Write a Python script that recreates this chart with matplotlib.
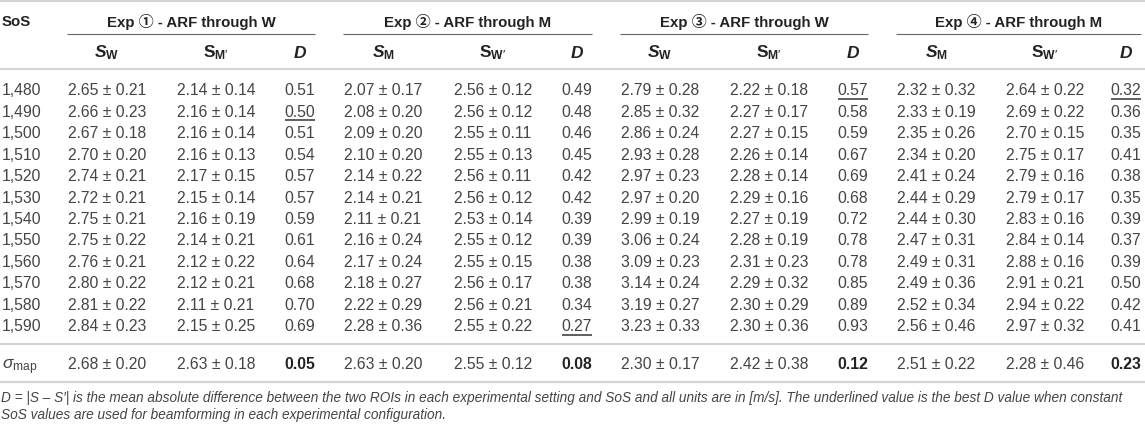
import matplotlib
matplotlib.use("Agg")
import matplotlib.pyplot as plt
from matplotlib import font_manager

# --- DATA ---
sos = [1480, 1490, 1500, 1510, 1520, 1530, 1540, 1550, 1560, 1570, 1580, 1590]

groups = ["Exp \u2460 - ARF through W", "Exp \u2461 - ARF through M",
          "Exp \u2462 - ARF through W", "Exp \u2463 - ARF through M"]

exp1_sw_mean = [2.65, 2.66, 2.67, 2.70, 2.74, 2.72, 2.75, 2.75, 2.76, 2.80, 2.81, 2.84]
exp1_sw_std  = [0.21, 0.23, 0.18, 0.20, 0.21, 0.21, 0.21, 0.22, 0.21, 0.22, 0.22, 0.23]
exp1_sm_mean = [2.14, 2.16, 2.16, 2.16, 2.17, 2.15, 2.16, 2.14, 2.12, 2.12, 2.11, 2.15]
exp1_sm_std  = [0.14, 0.14, 0.14, 0.13, 0.15, 0.14, 0.19, 0.21, 0.22, 0.21, 0.21, 0.25]
exp1_d       = [0.51, 0.50, 0.51, 0.54, 0.57, 0.57, 0.59, 0.61, 0.64, 0.68, 0.70, 0.69]

exp2_sm_mean = [2.07, 2.08, 2.09, 2.10, 2.14, 2.14, 2.11, 2.16, 2.17, 2.18, 2.22, 2.28]
exp2_sm_std  = [0.17, 0.20, 0.20, 0.20, 0.22, 0.21, 0.21, 0.24, 0.24, 0.27, 0.29, 0.36]
exp2_sw_mean = [2.56, 2.56, 2.55, 2.55, 2.56, 2.56, 2.53, 2.55, 2.55, 2.56, 2.56, 2.55]
exp2_sw_std  = [0.12, 0.12, 0.11, 0.13, 0.11, 0.12, 0.14, 0.12, 0.15, 0.17, 0.21, 0.22]
exp2_d       = [0.49, 0.48, 0.46, 0.45, 0.42, 0.42, 0.39, 0.39, 0.38, 0.38, 0.34, 0.27]

exp3_sw_mean = [2.79, 2.85, 2.86, 2.93, 2.97, 2.97, 2.99, 3.06, 3.09, 3.14, 3.19, 3.23]
exp3_sw_std  = [0.28, 0.32, 0.24, 0.28, 0.23, 0.20, 0.19, 0.24, 0.23, 0.24, 0.27, 0.33]
exp3_sm_mean = [2.22, 2.27, 2.27, 2.26, 2.28, 2.29, 2.27, 2.28, 2.31, 2.29, 2.30, 2.30]
exp3_sm_std  = [0.18, 0.17, 0.15, 0.14, 0.14, 0.16, 0.19, 0.19, 0.23, 0.32, 0.29, 0.36]
exp3_d       = [0.57, 0.58, 0.59, 0.67, 0.69, 0.68, 0.72, 0.78, 0.78, 0.85, 0.89, 0.93]

exp4_sm_mean = [2.32, 2.33, 2.35, 2.34, 2.41, 2.44, 2.44, 2.47, 2.49, 2.49, 2.52, 2.56]
exp4_sm_std  = [0.32, 0.19, 0.26, 0.20, 0.24, 0.29, 0.30, 0.31, 0.31, 0.36, 0.34, 0.46]
exp4_sw_mean = [2.64, 2.69, 2.70, 2.75, 2.79, 2.79, 2.83, 2.84, 2.88, 2.91, 2.94, 2.97]
exp4_sw_std  = [0.22, 0.22, 0.15, 0.17, 0.16, 0.17, 0.16, 0.14, 0.16, 0.21, 0.22, 0.32]
exp4_d       = [0.32, 0.36, 0.35, 0.41, 0.38, 0.35, 0.39, 0.37, 0.39, 0.50, 0.42, 0.41]

# sigma_map row: (mean, std) pairs and D per experiment
smap_mean = [2.68, 2.63, 2.63, 2.55, 2.30, 2.42, 2.51, 2.28]
smap_std  = [0.20, 0.18, 0.20, 0.12, 0.17, 0.38, 0.22, 0.46]
smap_d    = [0.05, 0.08, 0.12, 0.23]

# index of the underlined (best) D in each experiment
best_idx = [1, 11, 0, 0]

footnote = [
    "D = |S \u2013 S\u2032| is the mean absolute difference between the two ROIs in each experimental "
    "setting and SoS and all units are in [m/s]. The underlined value is the best D value when constant",
    "SoS values are used for beamforming in each experimental configuration.",
]

# --- LAYOUT ---
W, H = 1145, 429
col_x = [107, 216, 300, 383, 493, 577, 660, 769, 853, 936, 1045, 1126]
row_y0, row_dy = 95.3, 21.45
TXT = "#444444"
HEAD = "#222222"
RULE = "#d4d4d4"

avail = {f.name for f in font_manager.fontManager.ttflist}
NARROW = "Liberation Sans Narrow" if "Liberation Sans Narrow" in avail else "Liberation Sans"

plt.rcParams["font.family"] = ["Liberation Sans", "Noto Sans CJK JP", "DejaVu Sans"]
plt.rcParams["mathtext.fontset"] = "custom"
plt.rcParams["mathtext.rm"] = "Liberation Sans"
plt.rcParams["mathtext.it"] = "Liberation Sans:italic"
plt.rcParams["mathtext.bf"] = "Liberation Sans:bold"
try:
    plt.rcParams["mathtext.bfit"] = "Liberation Sans:italic:bold"
    BFIT = True
except KeyError:
    BFIT = False

fig = plt.figure(figsize=(W / 100, H / 100), dpi=100)
ax = fig.add_axes([0, 0, 1, 1])
ax.set_xlim(0, W)
ax.set_ylim(H, 0)
ax.axis("off")
renderer = fig.canvas.get_renderer()

def hline(y, x0=0, x1=W, color=RULE, lw=1.6):
    ax.plot([x0, x1], [y, y], color=color, lw=lw, solid_capstyle="butt")

def fit_size(s, family, target, style="normal", weight="normal", start=10):
    t = ax.text(0, 0, s, fontsize=start, family=family, style=style, weight=weight)
    w = t.get_window_extent(renderer).width
    t.remove()
    return start * target / w

# rules
hline(1.0)
hline(69)
hline(344)
hline(382)

# header
ax.text(2, 26.5, "SoS", fontsize=10.8, weight="bold", color=HEAD, va="baseline")
for g, name in enumerate(groups):
    x0 = col_x[3 * g] - 40
    x1 = min(col_x[3 * g + 2] + 15, W)
    ax.text((x0 + x1) / 2, 26.5, name, fontsize=10.8, weight="bold", color=HEAD,
            ha="center", va="baseline")
    hline(33.5, x0, x1, color="#666666", lw=0.8)

if BFIT:
    sub_w = r"$\mathbfit{S}_{\mathbf{W}}$"
    sub_m = r"$\mathbfit{S}_{\mathbf{M}}$"
    sub_d = r"$\mathbfit{D}$"
else:
    sub_w = r"$\mathbf{S}_{\mathbf{W}}$"
    sub_m = r"$\mathbf{S}_{\mathbf{M}}$"
    sub_d = r"$\mathbf{D}$"
sub_mp = r"$\mathbf{S}_{\mathbf{M}\prime}$"
sub_wp = r"$\mathbf{S}_{\mathbf{W}\prime}$"
subs = [sub_w, sub_mp, sub_d, sub_m, sub_wp, sub_d, sub_w, sub_mp, sub_d, sub_m, sub_wp, sub_d]
for x, s in zip(col_x, subs):
    ax.text(x, 57.5, s, fontsize=12.5, color=HEAD, ha="center", va="baseline")

# body
cols = [
    (exp1_sw_mean, exp1_sw_std), (exp1_sm_mean, exp1_sm_std), exp1_d,
    (exp2_sm_mean, exp2_sm_std), (exp2_sw_mean, exp2_sw_std), exp2_d,
    (exp3_sw_mean, exp3_sw_std), (exp3_sm_mean, exp3_sm_std), exp3_d,
    (exp4_sm_mean, exp4_sm_std), (exp4_sw_mean, exp4_sw_std), exp4_d,
]
for i, v in enumerate(sos):
    y = row_y0 + i * row_dy
    ax.text(2, y, f"{v:,}", fontsize=11.3, color=TXT, va="baseline")
    for c, col in enumerate(cols):
        if isinstance(col, tuple):
            s = f"{col[0][i]:.2f} \u00b1 {col[1][i]:.2f}"
        else:
            s = f"{col[i]:.2f}"
        ax.text(col_x[c], y, s, fontsize=11.3, color=TXT, ha="center", va="baseline")

for g, bi in enumerate(best_idx):
    x = col_x[3 * g + 2]
    y = row_y0 + bi * row_dy + 3.5
    hline(y, x - 15, min(x + 15, W - 1), color="#333333", lw=1.1)

# sigma_map row
ys = 369
nsize = fit_size("2.68 \u00b1 0.20", NARROW, 79)
ax.text(2, ys, r"$\sigma_{\mathrm{map}}$", fontsize=12.5, color=TXT, va="baseline")
k = 0
for g in range(4):
    for j in range(2):
        s = f"{smap_mean[k]:.2f} \u00b1 {smap_std[k]:.2f}"
        ax.text(col_x[3 * g + j], ys, s, fontsize=nsize, family=NARROW, color=TXT,
                ha="center", va="baseline")
        k += 1
    ax.text(col_x[3 * g + 2], ys, f"{smap_d[g]:.2f}", fontsize=nsize, family=NARROW,
            weight="bold", color=HEAD, ha="center", va="baseline")

# footnote
fsize = fit_size(footnote[0], NARROW, 1128, style="italic")
for j, line in enumerate(footnote):
    ax.text(1, 402 + j * 16.5, line, fontsize=fsize, family=NARROW, style="italic",
            color=TXT, va="baseline")

fig.savefig("out.png", dpi=100)
